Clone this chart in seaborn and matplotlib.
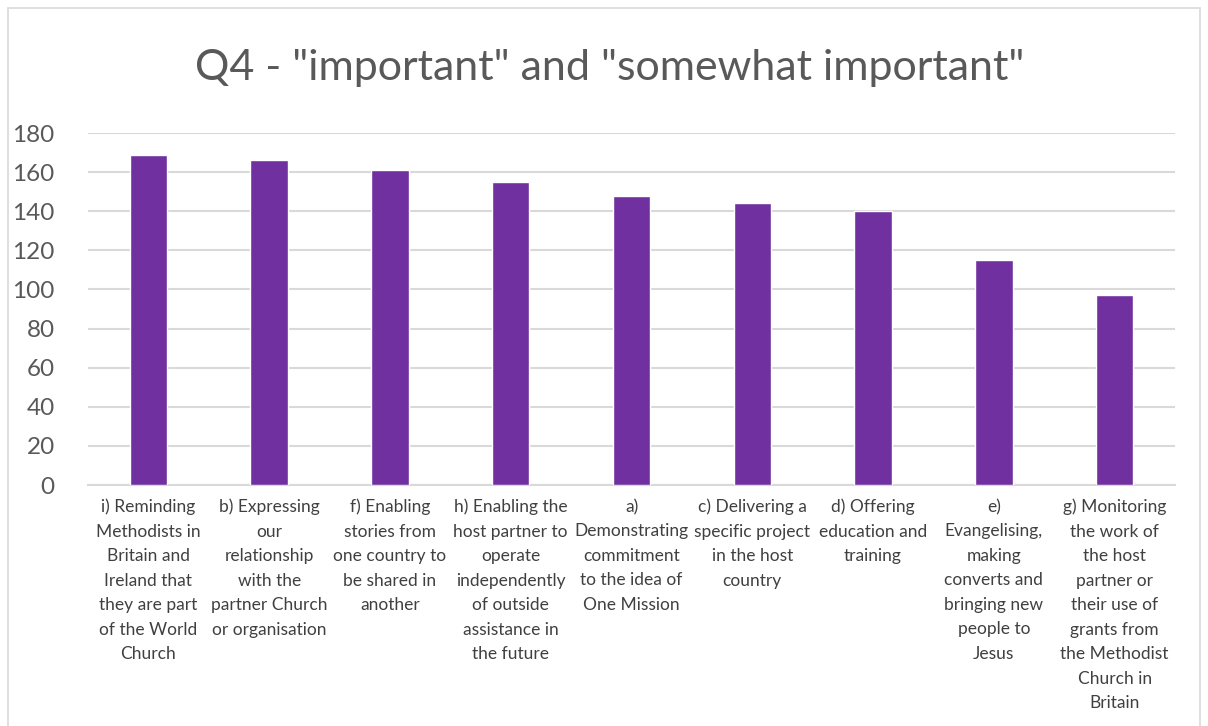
import matplotlib
matplotlib.use("Agg")
import matplotlib.pyplot as plt
import seaborn as sns
import pandas as pd
from matplotlib.patches import Rectangle

categories = [
    "i) Reminding\nMethodists in\nBritain and\nIreland that\nthey are part\nof the World\nChurch",
    "b) Expressing\nour\nrelationship\nwith the\npartner Church\nor organisation",
    "f) Enabling\nstories from\none country to\nbe shared in\nanother",
    "h) Enabling the\nhost partner to\noperate\nindependently\nof outside\nassistance in\nthe future",
    "a)\nDemonstrating\ncommitment\nto the idea of\nOne Mission",
    "c) Delivering a\nspecific project\nin the host\ncountry",
    "d) Offering\neducation and\ntraining",
    "e)\nEvangelising,\nmaking\nconverts and\nbringing new\npeople to\nJesus",
    "g) Monitoring\nthe work of\nthe host\npartner or\ntheir use of\ngrants from\nthe Methodist\nChurch in\nBritain",
]
values = [169, 166, 161, 155, 148, 144, 140, 115, 97]
yticks = [0, 20, 40, 60, 80, 100, 120, 140, 160, 180]
title = 'Q4 - "important" and "somewhat important"'

sns.set_theme(style="white")
plt.rcParams['font.family'] = ['Lato', 'DejaVu Sans']

df = pd.DataFrame({"cat": categories, "val": values})

fig = plt.figure(figsize=(12.08, 7.26), dpi=100)
ax = fig.add_axes([88/1208, 1-485/726, (1175-88)/1208, (485-133)/726])

sns.barplot(data=df, x="cat", y="val", color="#7030a0", width=0.31,
            saturation=1, ax=ax, zorder=3)

ax.set_ylim(0, 180)
ax.set_yticks(yticks)
ax.set_yticklabels([str(t) for t in yticks], fontsize=17.5, color="#595959")
ax.set_xlabel("")
ax.set_ylabel("")
ax.tick_params(axis="both", length=0)
ax.tick_params(axis="y", pad=24)
ax.tick_params(axis="x", pad=10)
ax.set_xticks(range(len(categories)))
ax.set_xticklabels(categories, fontsize=12.5, color="#404040",
                   linespacing=1.65, va="top", ha="center")
ax.yaxis.grid(True, color="#d9d9d9", linewidth=1.5, zorder=0)
ax.set_axisbelow(True)
for s in ["top", "right", "left"]:
    ax.spines[s].set_visible(False)
ax.spines["bottom"].set_color("#d9d9d9")
ax.spines["bottom"].set_linewidth(1.5)
ax.set_xlim(-0.5, len(categories) - 0.5)

fig.text(610/1208, 1-68/726, title, fontsize=31, color="#595959",
         ha="center", va="center")

fig.patches.append(Rectangle((8/1208, -0.01), (1200-8)/1208, 1-8/726 + 0.01,
                             transform=fig.transFigure, fill=False,
                             edgecolor="#d9d9d9", linewidth=1.2))

fig.savefig("out.png", dpi=100)
